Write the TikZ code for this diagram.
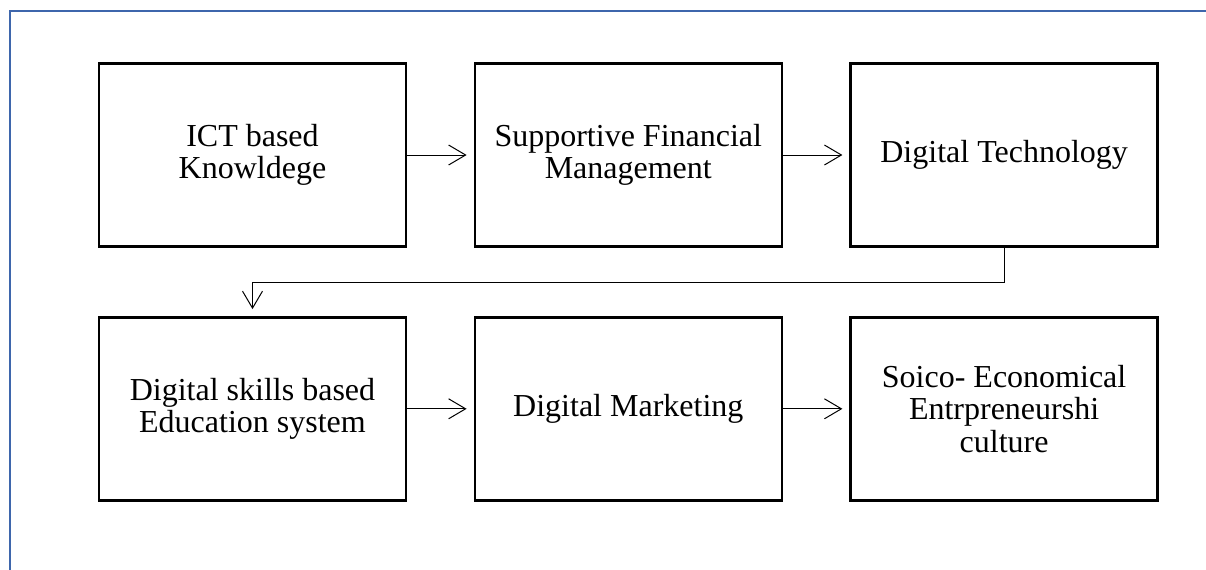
\documentclass[tikz,border=0pt]{standalone}
\usepackage{fontspec}
\setmainfont{Liberation Serif}
\usepackage{xcolor}
\usepackage{tikz}
\usetikzlibrary{arrows.meta, positioning}
\definecolor{frameblue}{RGB}{62, 102, 172}
\definecolor{boxblack}{RGB}{0, 0, 0}

\begin{document}
\begin{tikzpicture}[
  node distance=34.2pt and 33.2pt,
  stage/.style={rectangle, draw=boxblack, line width=1.2pt, minimum width=153.5pt, minimum height=91.5pt, align=center, font=\fontsize{16}{16.2}\selectfont},
  flow/.style={draw=boxblack, line width=0.5pt, -{Straight Barb[length=8.5pt, width=10pt]}, shorten >=3.5pt}
]

  \useasboundingbox (-126.25pt,-207pt) rectangle (476.75pt,77.5pt);

  % outer frame, open at the right and bottom
  \draw[frameblue, line width=1.3pt] (480pt,72pt) -| (-121.25pt,-210pt);

  \node[stage] (ict) {ICT based\\Knowldege};
  \node[stage, right=of ict] (finance) {Supportive Financial\\Management};
  \node[stage, right=of finance] (tech) {Digital Technology};
  \node[stage, below=of ict] (edu) {Digital skills based\\Education system};
  \node[stage, right=of edu] (marketing) {Digital Marketing};
  \node[stage, right=of marketing] (culture) {Soico- Economical\\Entrpreneurshi\\culture};

  \draw[flow] (ict) -- (finance);
  \draw[flow] (finance) -- (tech);
  \draw[flow] (tech.south) -- ++(0,-17.5pt) -| (edu.north);
  \draw[flow] (edu) -- (marketing);
  \draw[flow] (marketing) -- (culture);

\end{tikzpicture}
\end{document}
